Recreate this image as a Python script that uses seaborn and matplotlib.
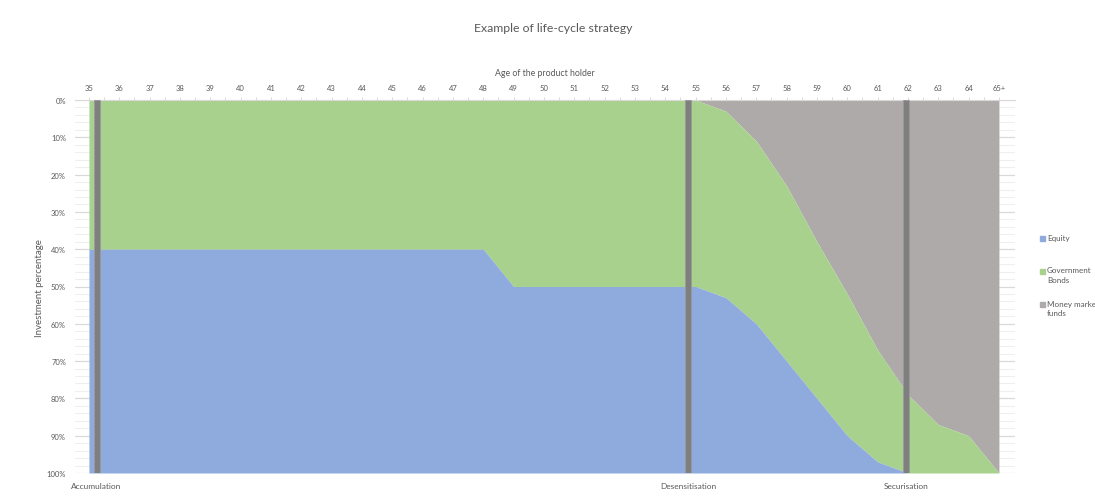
import numpy as np
import matplotlib
matplotlib.use("Agg")
import matplotlib.pyplot as plt
import seaborn as sns
from matplotlib.patches import Rectangle
from matplotlib.transforms import blended_transform_factory

# ---- data ----
ages = list(range(35, 66))
age_labels = [str(a) for a in range(35, 65)] + ["65+"]
equity = [60] * 14 + [50] * 7 + [47, 40, 30, 20, 10, 3, 0, 0, 0, 0]
money_market = [0] * 21 + [3, 11, 23, 38, 52, 67, 79, 87, 90, 100]
gov_bonds = [100 - e - m for e, m in zip(equity, money_market)]
series_names = ["Equity", "Government\nBonds", "Money market\nfunds"]
phases = ["Accumulation", "Desensitisation", "Securisation"]
phase_pos = [35.25, 54.75, 61.95]
phase_height = [100, 100, 100]
y_ticks = list(range(0, 101, 10))

# ---- style ----
sns.set_theme(style="white")
plt.rcParams["font.family"] = ["Lato", "DejaVu Sans"]
txt = "#595959"
c_eq, c_gov, c_mm = "#8FAADC", "#A9D18E", "#AEAAAA"
c_bar = "#7F7F7F"

fig = plt.figure(figsize=(10.95, 5.02), dpi=100)
ax = fig.add_axes([75 / 1095, 1 - 474 / 502, 940 / 1095, 373 / 502])

ax.stackplot(ages, money_market, gov_bonds, equity,
             colors=[c_mm, c_gov, c_eq], linewidth=0, zorder=2)
ax.bar(phase_pos, phase_height, width=0.2, bottom=0, color=c_bar,
       edgecolor="#9A9A9A", linewidth=0.6, zorder=3)

ax.set_xlim(34.54, 65.53)
ax.set_ylim(100, 0)

ax.set_yticks(y_ticks, labels=[f"{v}%" for v in y_ticks])
ax.set_yticks(np.arange(0, 101, 2), minor=True)
ax.grid(which="major", axis="y", color="#D9D9D9", linewidth=0.9)
ax.grid(which="minor", axis="y", color="#EFEFEF", linewidth=0.8)
ax.grid(which="major", axis="x", visible=False)
ax.set_axisbelow(True)
ax.tick_params(axis="y", which="both", length=0, pad=6.5, labelsize=5.5, labelcolor=txt)

ax.xaxis.tick_top()
ax.set_xticks(ages, labels=age_labels)
ax.set_xticks(np.arange(35.5, 65.5, 1.0), minor=True)
ax.tick_params(axis="x", which="both", direction="out", length=2.5, width=0.7,
               color="#D9D9D9", pad=4, labelsize=5.5, labelcolor=txt,
               top=True, bottom=False)

for s in ["left", "right", "bottom"]:
    ax.spines[s].set_visible(False)
ax.spines["top"].set_color("#D9D9D9")
ax.spines["top"].set_linewidth(0.8)

# texts
fig.text(553 / 1095, 1 - 29 / 502, "Example of life-cycle strategy",
         ha="center", va="center", fontsize=8.8, color=txt)
fig.text(545 / 1095, 1 - 73 / 502, "Age of the product holder",
         ha="center", va="center", fontsize=6.3, color=txt)
fig.text(40 / 1095, 1 - 288 / 502, "Investment percentage", rotation=90,
         ha="center", va="center", fontsize=7, color=txt)

trans = blended_transform_factory(ax.transData, fig.transFigure)
for name, pos in zip(phases, phase_pos):
    ax.text(pos, 1 - 487 / 502, name, transform=trans, ha="center",
            va="center", fontsize=6, color=txt)

# legend (manual, top-aligned squares)
leg_y = [239, 272, 305]
for name, col, yy in zip(series_names, [c_eq, c_gov, c_mm], leg_y):
    fig.patches.append(Rectangle((1040 / 1095, 1 - (yy + 2.5) / 502), 5 / 1095, 5 / 502,
                                 transform=fig.transFigure, color=col, zorder=5))
    fig.text(1047 / 1095, 1 - (yy - 4.5) / 502, name, ha="left", va="top",
             fontsize=5.8, color=txt, linespacing=1.5)

fig.savefig("out.png", dpi=100)
